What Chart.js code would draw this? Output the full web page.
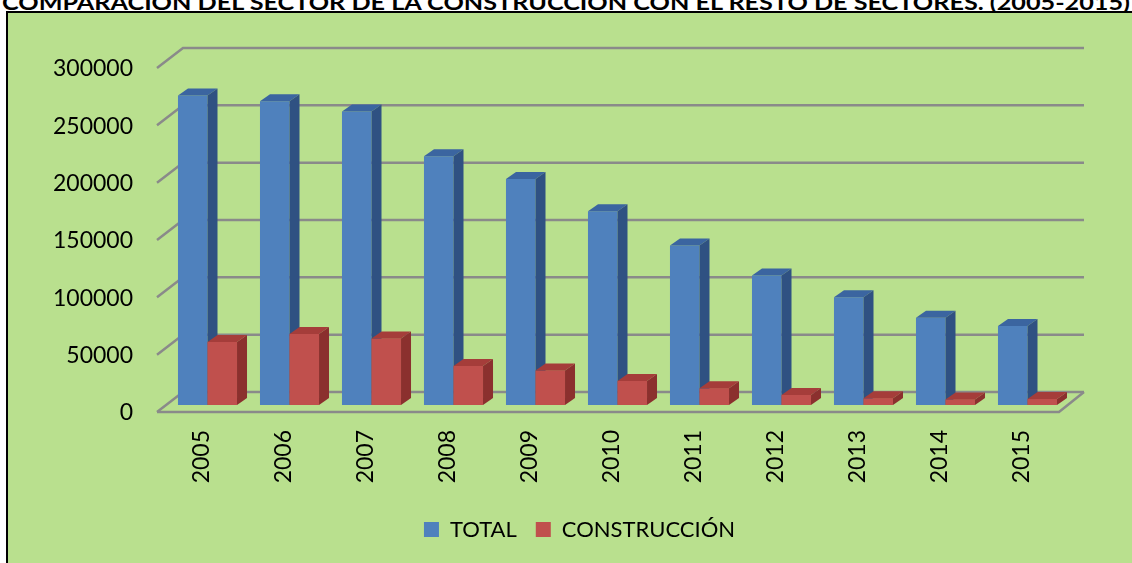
<!DOCTYPE html>
<html>
<head>
<meta charset="utf-8">
<title>Construcción 2005-2015</title>
<script src="https://cdn.jsdelivr.net/npm/chart.js@4.4.1/dist/chart.umd.min.js"></script>
<style>
  html, body { margin: 0; padding: 0; background: #fff; overflow: hidden; }
  body { width: 1132px; height: 563px; position: relative; }
  #frame {
    position: absolute; left: 6px; top: 11px; width: 1140px; height: 570px;
    background: #b9e08e; border: 2.5px solid #000; box-sizing: border-box;
  }
  #title { position: absolute; left: 0; top: 0; }
  #chart { position: absolute; left: 0; top: 0; }
</style>
</head>
<body>
<div id="frame"></div>
<svg id="title" width="1132" height="12">
  <text x="2" y="9.5" textLength="1128" lengthAdjust="spacingAndGlyphs"
        font-family="Lato" font-weight="bold" font-size="21" fill="#000">COMPARACIÓN DEL SECTOR DE LA CONSTRUCCIÓN CON EL RESTO DE SECTORES. (2005-2015)</text>
</svg>
<canvas id="chart" width="1132" height="563"></canvas>

<script>
// data
const years = ['2005', '2006', '2007', '2008', '2009', '2010', '2011', '2012', '2013', '2014', '2015'];
const totalValues = [270000, 265000, 256000, 217000, 197000, 169000, 139000, 113000, 94000, 76000, 69000];
const construccionValues = [55000, 62000, 58000, 34000, 30000, 21000, 14500, 8700, 5800, 4900, 5200];
const yTickValues = [0, 50000, 100000, 150000, 200000, 250000, 300000];

// fake 3d depth of the bars and of the back wall
const BAR_DX = 10, BAR_DY = -7;
const GRID = '#8a8a8a';

function face(ctx, pts, color) {
  ctx.beginPath();
  ctx.moveTo(pts[0][0], pts[0][1]);
  for (let i = 1; i < pts.length; i++) ctx.lineTo(pts[i][0], pts[i][1]);
  ctx.closePath();
  ctx.fillStyle = color;
  ctx.fill();
}

/* ------------------------- back wall + floor lines ------------------------ */
const wallPlugin = {
  id: 'wall',
  beforeDatasetsDraw(chart) {
    const { ctx, chartArea: a, scales: { y } } = chart;
    const frontL = a.left - 9.5, frontR = a.right - 9.5;
    const backL = a.left + 16.5, backR = a.right + 15.5;
    ctx.save();
    ctx.strokeStyle = GRID;
    ctx.lineWidth = 2.5;
    yTickValues.forEach(v => {
      const py = y.getPixelForValue(v);
      ctx.beginPath();
      ctx.moveTo(frontL, py + 7);
      ctx.lineTo(backL, py - 13);
      ctx.lineTo(backR, py - 13);
      ctx.stroke();
    });
    const p0 = y.getPixelForValue(0);
    ctx.beginPath();
    ctx.moveTo(frontL, p0 + 7);
    ctx.lineTo(frontR, p0 + 7);
    ctx.lineTo(backR, p0 - 13);
    ctx.stroke();
    ctx.restore();
  }
};

/* --------------------------- top and side faces --------------------------- */
function drawFaces(ctx, meta, ds) {
  meta.data.forEach(el => {
    const { x, y, base, width } = el.getProps(['x', 'y', 'base', 'width'], true);
    const l = x - width / 2, r = x + width / 2;
    face(ctx, [[l, y], [l + BAR_DX, y + BAR_DY], [r + BAR_DX, y + BAR_DY], [r, y]], ds.topColor);
    face(ctx, [[r, y], [r + BAR_DX, y + BAR_DY], [r + BAR_DX, base + BAR_DY], [r, base]], ds.sideColor);
  });
}

const bar3dPlugin = {
  id: 'bar3d',
  afterDatasetsDraw(chart) {
    const ctx = chart.ctx;
    const [dsTotal, dsCons] = chart.data.datasets;
    const mTotal = chart.getDatasetMeta(0), mCons = chart.getDatasetMeta(1);
    ctx.save();
    drawFaces(ctx, mTotal, dsTotal);
    // red fronts again so they hide the blue side faces
    mCons.data.forEach(el => el.draw(ctx));
    drawFaces(ctx, mCons, dsCons);
    ctx.restore();
  }
};

const font = { family: 'Lato', size: 23 };

new Chart(document.getElementById('chart'), {
  type: 'bar',
  data: {
    labels: years,
    datasets: [
      { label: 'TOTAL', data: totalValues, backgroundColor: '#4f81bd', topColor: '#3b65a0', sideColor: '#2f5182' },
      { label: 'CONSTRUCCIÓN', data: construccionValues, backgroundColor: '#c0504d', topColor: '#a53d3a', sideColor: '#8b302e' }
    ]
  },
  options: {
    responsive: false,
    animation: false,
    devicePixelRatio: 1,
    categoryPercentage: 0.72,
    barPercentage: 1.0,
    layout: { padding: { top: 61, left: 50, right: 23, bottom: 12.5 } },
    scales: {
      x: {
        grid: { display: false, drawTicks: false },
        border: { display: false },
        ticks: {
          color: '#000', font, padding: 25, labelOffset: -6,
          minRotation: 90, maxRotation: 90, autoSkip: false
        },
        afterFit: s => { s.height = 94.5; }
      },
      y: {
        min: 0, max: 300000,
        grid: { display: false, drawTicks: false },
        border: { display: false },
        afterBuildTicks: s => { s.ticks = yTickValues.map(v => ({ value: v })); },
        ticks: { color: '#000', font, padding: 33.5, labelOffset: 8, callback: v => String(v) },
        afterFit: s => { s.width = 116.5; }
      },
      // empty right strip, leaves room for the back wall
      yRight: {
        position: 'right', min: 0, max: 300000,
        grid: { display: false, drawTicks: false },
        border: { display: false },
        ticks: { display: false },
        afterFit: s => { s.width = 40.5; }
      }
    },
    plugins: {
      legend: {
        position: 'bottom',
        labels: { color: '#000', font: { family: 'Lato', size: 22 }, boxWidth: 15, boxHeight: 15, padding: 19 }
      },
      tooltip: { enabled: false }
    }
  },
  plugins: [wallPlugin, bar3dPlugin]
});
</script>
</body>
</html>
